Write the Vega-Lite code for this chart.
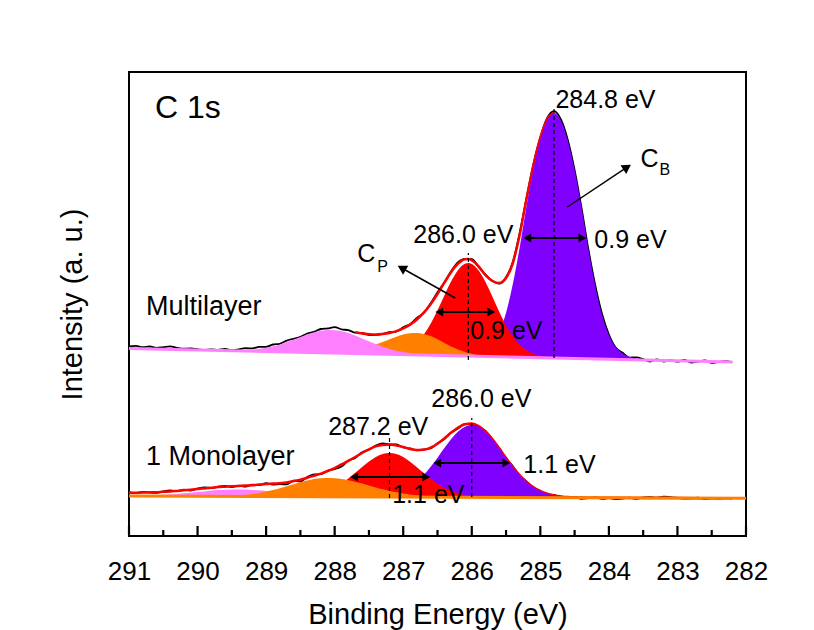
{
  "$schema": "https://vega.github.io/schema/vega-lite/v6.json",
  "width": 617,
  "height": 464,
  "autosize": {"type": "none"},
  "padding": {"left": 129, "top": 72, "right": 68, "bottom": 94},
  "background": "white",
  "config": {"view": {"stroke": "black", "strokeWidth": 2}, "font": "Liberation Sans"},
  "datasets": {
    "ml_data": [
      {"E":291.0,"v":189.5},{"E":290.9,"v":190.1},{"E":290.8,"v":188.8},{"E":290.7,"v":189.5},{"E":290.6,"v":188.1},{"E":290.5,"v":188.9},{"E":290.4,"v":189.6},{"E":290.3,"v":188.2},{"E":290.2,"v":187.3},{"E":290.1,"v":187.6},
      {"E":290.0,"v":186.8},{"E":289.9,"v":186.0},{"E":289.8,"v":186.6},{"E":289.7,"v":186.1},{"E":289.6,"v":187.0},{"E":289.5,"v":185.8},{"E":289.4,"v":186.7},{"E":289.3,"v":187.8},{"E":289.2,"v":187.6},{"E":289.1,"v":189.1},
      {"E":289.0,"v":189.2},{"E":288.9,"v":191.5},{"E":288.8,"v":192.2},{"E":288.7,"v":195.4},{"E":288.6,"v":197.2},{"E":288.5,"v":199.2},{"E":288.4,"v":202.5},{"E":288.3,"v":204.2},{"E":288.2,"v":207.0},{"E":288.1,"v":207.6},
      {"E":288.0,"v":208.9},{"E":287.9,"v":206.6},{"E":287.8,"v":205.9},{"E":287.7,"v":203.3},{"E":287.6,"v":203.0},{"E":287.5,"v":200.9},{"E":287.4,"v":201.1},{"E":287.3,"v":202.1},{"E":287.2,"v":203.8},{"E":287.1,"v":204.4},
      {"E":287.0,"v":208.8},{"E":286.9,"v":211.8},{"E":286.8,"v":218.0},{"E":286.7,"v":223.1},{"E":286.6,"v":232.7},{"E":286.5,"v":243.8},{"E":286.4,"v":253.6},{"E":286.3,"v":265.0},{"E":286.2,"v":273.8},{"E":286.1,"v":277.1},
      {"E":286.0,"v":276.9},{"E":285.9,"v":269.2},{"E":285.8,"v":261.4},{"E":285.7,"v":255.2},{"E":285.6,"v":252.4},{"E":285.5,"v":258.8},{"E":285.4,"v":274.5},{"E":285.3,"v":303.5},{"E":285.2,"v":338.6},{"E":285.1,"v":372.1},
      {"E":285.0,"v":398.7},{"E":284.9,"v":418.0},{"E":284.8,"v":424.9},{"E":284.7,"v":416.5},{"E":284.6,"v":396.2},{"E":284.5,"v":365.8},{"E":284.4,"v":328.3},{"E":284.3,"v":287.0},{"E":284.2,"v":251.0},{"E":284.1,"v":221.9},
      {"E":284.0,"v":201.5},{"E":283.9,"v":188.5},{"E":283.8,"v":183.2},{"E":283.7,"v":178.4},{"E":283.6,"v":178.6},{"E":283.5,"v":176.8},{"E":283.4,"v":174.4},{"E":283.3,"v":176.5},{"E":283.2,"v":174.4},{"E":283.1,"v":175.9},
      {"E":283.0,"v":174.3},{"E":282.9,"v":176.1},{"E":282.8,"v":173.4},{"E":282.7,"v":174.5},{"E":282.6,"v":175.6},{"E":282.5,"v":173.1},{"E":282.4,"v":174.1},{"E":282.3,"v":174.9},{"E":282.2,"v":173.5}
    ],
    "mono_data": [
      {"E":291.0,"v":43.7},{"E":290.9,"v":43.0},{"E":290.8,"v":44.2},{"E":290.7,"v":43.6},{"E":290.6,"v":43.2},{"E":290.5,"v":44.6},{"E":290.4,"v":45.5},{"E":290.3,"v":44.9},{"E":290.2,"v":46.3},{"E":290.1,"v":45.5},
      {"E":290.0,"v":47.3},{"E":289.9,"v":48.7},{"E":289.8,"v":47.8},{"E":289.7,"v":49.4},{"E":289.6,"v":50.2},{"E":289.5,"v":49.0},{"E":289.4,"v":50.3},{"E":289.3,"v":49.3},{"E":289.2,"v":51.4},{"E":289.1,"v":50.9},
      {"E":289.0,"v":52.8},{"E":288.9,"v":51.3},{"E":288.8,"v":51.9},{"E":288.7,"v":51.6},{"E":288.6,"v":55.4},{"E":288.5,"v":54.5},{"E":288.4,"v":58.9},{"E":288.3,"v":61.5},{"E":288.2,"v":61.8},{"E":288.1,"v":65.4},
      {"E":288.0,"v":66.9},{"E":287.9,"v":69.4},{"E":287.8,"v":75.4},{"E":287.7,"v":78.1},{"E":287.6,"v":83.7},{"E":287.5,"v":86.3},{"E":287.4,"v":90.4},{"E":287.3,"v":92.6},{"E":287.2,"v":91.7},{"E":287.1,"v":91.5},
      {"E":287.0,"v":88.5},{"E":286.9,"v":87.6},{"E":286.8,"v":85.7},{"E":286.7,"v":86.7},{"E":286.6,"v":87.6},{"E":286.5,"v":92.8},{"E":286.4,"v":97.0},{"E":286.3,"v":103.6},{"E":286.2,"v":107.4},{"E":286.1,"v":112.0},
      {"E":286.0,"v":111.9},{"E":285.9,"v":108.8},{"E":285.8,"v":105.1},{"E":285.7,"v":96.2},{"E":285.6,"v":87.9},{"E":285.5,"v":77.6},{"E":285.4,"v":69.7},{"E":285.3,"v":60.3},{"E":285.2,"v":54.5},{"E":285.1,"v":48.3},
      {"E":285.0,"v":45.2},{"E":284.9,"v":41.4},{"E":284.8,"v":41.1},{"E":284.7,"v":38.6},{"E":284.6,"v":38.7},{"E":284.5,"v":39.2},{"E":284.4,"v":37.1},{"E":284.3,"v":37.8},{"E":284.2,"v":38.6},{"E":284.1,"v":37.1},
      {"E":284.0,"v":37.9},{"E":283.9,"v":36.8},{"E":283.8,"v":37.5},{"E":283.7,"v":38.3},{"E":283.6,"v":37.1},{"E":283.5,"v":38.6},{"E":283.4,"v":39.0},{"E":283.3,"v":38.4},{"E":283.2,"v":39.3},{"E":283.1,"v":38.8},
      {"E":283.0,"v":38.2},{"E":282.9,"v":37.3},{"E":282.8,"v":37.7},{"E":282.7,"v":38.3},{"E":282.6,"v":37.0},{"E":282.5,"v":38.0},{"E":282.4,"v":37.3},{"E":282.3,"v":38.1},{"E":282.2,"v":37.4}
    ],
    "ml_env": [
      {"E":287.7,"v":203.7},{"E":287.6,"v":202.4},{"E":287.5,"v":201.7},{"E":287.4,"v":201.4},{"E":287.3,"v":201.9},{"E":287.2,"v":203.0},{"E":287.1,"v":204.9},{"E":287.0,"v":207.6},{"E":286.9,"v":211.4},{"E":286.8,"v":216.5},
      {"E":286.7,"v":223.3},{"E":286.6,"v":231.8},{"E":286.5,"v":242.0},{"E":286.4,"v":253.3},{"E":286.3,"v":264.0},{"E":286.2,"v":272.3},{"E":286.1,"v":276.7},{"E":286.05,"v":276.9},{"E":286.0,"v":275.7},{"E":285.9,"v":269.7},
      {"E":285.8,"v":260.8},{"E":285.7,"v":255.0},{"E":285.6,"v":253.0},{"E":285.5,"v":258.0},{"E":285.4,"v":273.0},{"E":285.3,"v":301.5},{"E":285.2,"v":337.6},{"E":285.1,"v":370.9},{"E":285.0,"v":398.2},{"E":284.9,"v":416.7},{"E":284.8,"v":423.4}
    ],
    "mono_env": [
      {"E":291.0,"v":43.2},{"E":290.9,"v":43.3},{"E":290.8,"v":43.4},{"E":290.7,"v":43.6},{"E":290.6,"v":43.8},{"E":290.5,"v":44.2},{"E":290.4,"v":44.5},{"E":290.3,"v":45.1},{"E":290.2,"v":45.7},{"E":290.1,"v":46.3},
      {"E":290.0,"v":47.0},{"E":289.9,"v":47.6},{"E":289.8,"v":48.2},{"E":289.7,"v":48.9},{"E":289.6,"v":49.3},{"E":289.5,"v":49.7},{"E":289.4,"v":50.1},{"E":289.3,"v":50.5},{"E":289.2,"v":50.8},{"E":289.1,"v":51.4},
      {"E":289.0,"v":52.0},{"E":288.9,"v":52.5},{"E":288.8,"v":52.7},{"E":288.7,"v":53.6},{"E":288.6,"v":54.9},{"E":288.5,"v":56.3},{"E":288.4,"v":58.2},{"E":288.3,"v":60.3},{"E":288.2,"v":62.4},{"E":288.1,"v":65.0},
      {"E":288.0,"v":67.9},{"E":287.9,"v":71.6},{"E":287.8,"v":75.1},{"E":287.7,"v":79.0},{"E":287.6,"v":83.1},{"E":287.5,"v":86.7},{"E":287.4,"v":89.6},{"E":287.3,"v":91.1},{"E":287.2,"v":91.5},{"E":287.1,"v":90.6},
      {"E":287.0,"v":89.0},{"E":286.9,"v":87.0},{"E":286.8,"v":86.0},{"E":286.7,"v":86.3},{"E":286.6,"v":88.4},{"E":286.5,"v":92.3},{"E":286.4,"v":97.6},{"E":286.3,"v":103.4},{"E":286.2,"v":108.4},{"E":286.1,"v":111.7},
      {"E":286.0,"v":112.4},{"E":285.9,"v":110.0},{"E":285.8,"v":104.7},{"E":285.7,"v":97.0},{"E":285.6,"v":87.7},{"E":285.5,"v":78.1},{"E":285.4,"v":68.8},{"E":285.3,"v":60.6},{"E":285.2,"v":53.9},{"E":285.1,"v":48.7},
      {"E":285.0,"v":44.9},{"E":284.9,"v":42.3},{"E":284.8,"v":40.6},{"E":284.7,"v":39.6},{"E":284.6,"v":38.9},{"E":284.5,"v":38.6},{"E":284.4,"v":38.4},{"E":284.2,"v":38.2},{"E":284.0,"v":38.2},{"E":283.5,"v":38.1},
      {"E":283.0,"v":37.9},{"E":282.5,"v":37.8},{"E":282.2,"v":37.7}
    ],
    "ml_violet": [
      {"E":283.4,"v":175.9,"b":175.9},{"E":283.5,"v":176.5,"b":176.0},{"E":283.6,"v":177.4,"b":176.2},{"E":283.7,"v":179.2,"b":176.3},{"E":283.8,"v":182.6,"b":176.5},{"E":283.9,"v":188.9,"b":176.6},{"E":284.0,"v":201.3,"b":176.8},{"E":284.1,"v":221.0,"b":176.9},
      {"E":284.2,"v":250.6,"b":177.1},{"E":284.3,"v":287.6,"b":177.3},{"E":284.4,"v":329.3,"b":177.4},{"E":284.5,"v":366.3,"b":177.6},{"E":284.6,"v":395.8,"b":177.7},{"E":284.7,"v":415.6,"b":177.9},{"E":284.8,"v":423.0,"b":178.0},{"E":284.9,"v":415.9,"b":178.2},
      {"E":285.0,"v":396.4,"b":178.3},{"E":285.1,"v":367.2,"b":178.5},{"E":285.2,"v":330.5,"b":178.6},{"E":285.3,"v":289.1,"b":178.8},{"E":285.4,"v":252.4,"b":178.9},{"E":285.5,"v":223.2,"b":179.1},{"E":285.6,"v":203.7,"b":179.2},{"E":285.7,"v":191.7,"b":179.4},
      {"E":285.8,"v":185.7,"b":179.6},{"E":285.9,"v":182.6,"b":179.7},{"E":286.0,"v":181.1,"b":179.9},{"E":286.1,"v":180.5,"b":180.0},{"E":286.2,"v":180.2,"b":180.2}
    ],
    "ml_red": [
      {"E":284.6,"v":177.8,"b":177.7},{"E":284.7,"v":178.0,"b":177.9},{"E":284.8,"v":178.4,"b":178.0},{"E":284.9,"v":179.0,"b":178.2},{"E":285.0,"v":180.1,"b":178.3},{"E":285.1,"v":182.2,"b":178.5},{"E":285.2,"v":185.7,"b":178.6},{"E":285.3,"v":191.2,"b":178.8},
      {"E":285.4,"v":199.5,"b":178.9},{"E":285.5,"v":210.6,"b":179.1},{"E":285.6,"v":224.3,"b":179.2},{"E":285.7,"v":239.5,"b":179.4},{"E":285.8,"v":254.0,"b":179.6},{"E":285.9,"v":265.5,"b":179.7},{"E":286.0,"v":272.0,"b":179.9},{"E":286.05,"v":272.9,"b":179.9},
      {"E":286.1,"v":272.2,"b":180.0},{"E":286.2,"v":266.0,"b":180.2},{"E":286.3,"v":254.7,"b":180.3},{"E":286.4,"v":240.6,"b":180.5},{"E":286.5,"v":225.7,"b":180.6},{"E":286.6,"v":212.3,"b":180.8},{"E":286.7,"v":201.5,"b":180.9},{"E":286.8,"v":193.5,"b":181.1},
      {"E":286.9,"v":188.3,"b":181.2},{"E":287.0,"v":185.1,"b":181.4},{"E":287.1,"v":183.3,"b":181.5},{"E":287.2,"v":182.5,"b":181.7},{"E":287.3,"v":182.2,"b":181.8},{"E":287.4,"v":182.1,"b":182.0},{"E":287.5,"v":182.2,"b":182.2}
    ],
    "ml_orange": [
      {"E":285.6,"v":179.4,"b":179.2},{"E":285.7,"v":179.7,"b":179.4},{"E":285.8,"v":180.3,"b":179.6},{"E":285.9,"v":181.0,"b":179.7},{"E":286.0,"v":182.3,"b":179.9},{"E":286.1,"v":184.0,"b":180.0},{"E":286.2,"v":186.5,"b":180.2},
      {"E":286.3,"v":189.6,"b":180.3},{"E":286.4,"v":193.1,"b":180.5},{"E":286.5,"v":196.7,"b":180.6},{"E":286.6,"v":200.0,"b":180.8},{"E":286.7,"v":202.1,"b":180.9},{"E":286.8,"v":203.1,"b":181.1},{"E":286.9,"v":202.7,"b":181.2},
      {"E":287.0,"v":201.4,"b":181.4},{"E":287.1,"v":199.3,"b":181.5},{"E":287.2,"v":196.8,"b":181.7},{"E":287.3,"v":194.0,"b":181.8},{"E":287.4,"v":191.4,"b":182.0},{"E":287.5,"v":189.0,"b":182.2},{"E":287.6,"v":187.1,"b":182.3},
      {"E":287.7,"v":185.7,"b":182.5},{"E":287.8,"v":184.7,"b":182.6},{"E":287.9,"v":184.1,"b":182.8},{"E":288.0,"v":183.6,"b":182.9},{"E":288.1,"v":183.5,"b":183.1},{"E":288.2,"v":183.4,"b":183.2},{"E":288.3,"v":183.5,"b":183.4}
    ],
    "ml_pink": [
      {"E":286.4,"v":180.6,"b":180.5},{"E":286.5,"v":180.8,"b":180.6},{"E":286.6,"v":181.1,"b":180.8},{"E":286.7,"v":181.5,"b":180.9},{"E":286.8,"v":182.1,"b":181.1},{"E":286.9,"v":182.8,"b":181.2},{"E":287.0,"v":183.9,"b":181.4},
      {"E":287.1,"v":185.3,"b":181.5},{"E":287.2,"v":187.1,"b":181.7},{"E":287.3,"v":189.3,"b":181.8},{"E":287.4,"v":191.9,"b":182.0},{"E":287.5,"v":194.8,"b":182.2},{"E":287.6,"v":197.6,"b":182.3},{"E":287.7,"v":200.5,"b":182.5},
      {"E":287.8,"v":202.9,"b":182.6},{"E":287.9,"v":204.8,"b":182.8},{"E":288.0,"v":205.8,"b":182.9},{"E":288.1,"v":206.0,"b":183.1},{"E":288.2,"v":205.2,"b":183.2},{"E":288.3,"v":203.7,"b":183.4},{"E":288.4,"v":201.5,"b":183.5},
      {"E":288.5,"v":199.0,"b":183.7},{"E":288.6,"v":196.4,"b":183.8},{"E":288.7,"v":193.9,"b":184.0},{"E":288.8,"v":191.6,"b":184.1},{"E":288.9,"v":189.7,"b":184.3},{"E":289.0,"v":188.2,"b":184.4},{"E":289.1,"v":187.1,"b":184.6},
      {"E":289.2,"v":186.4,"b":184.8},{"E":289.3,"v":185.9,"b":184.9},{"E":289.4,"v":185.7,"b":185.1},{"E":289.5,"v":185.5,"b":185.2},{"E":289.6,"v":185.6,"b":185.4},{"E":289.7,"v":185.6,"b":185.5}
    ],
    "ml_base": [{"E":291.0,"v":187.5},{"E":282.2,"v":174.0}],
    "mono_violet": [
      {"E":284.4,"v":38.4,"b":38.3},{"E":284.5,"v":38.6,"b":38.3},{"E":284.6,"v":38.9,"b":38.3},{"E":284.7,"v":39.6,"b":38.4},{"E":284.8,"v":40.6,"b":38.4},{"E":284.9,"v":42.3,"b":38.4},{"E":285.0,"v":44.9,"b":38.4},{"E":285.1,"v":48.7,"b":38.5},
      {"E":285.2,"v":53.9,"b":38.5},{"E":285.3,"v":60.6,"b":38.5},{"E":285.4,"v":68.8,"b":38.5},{"E":285.5,"v":78.1,"b":38.6},{"E":285.6,"v":87.7,"b":38.6},{"E":285.7,"v":96.8,"b":38.6},{"E":285.8,"v":104.3,"b":38.7},{"E":285.9,"v":109.3,"b":38.7},
      {"E":286.0,"v":111.0,"b":38.7},{"E":286.1,"v":109.3,"b":38.7},{"E":286.2,"v":104.4,"b":38.8},{"E":286.3,"v":97.0,"b":38.8},{"E":286.4,"v":87.9,"b":38.8},{"E":286.5,"v":78.3,"b":38.8},{"E":286.6,"v":69.2,"b":38.9},{"E":286.7,"v":61.0,"b":38.9},
      {"E":286.8,"v":54.3,"b":38.9},{"E":286.9,"v":49.1,"b":38.9},{"E":287.0,"v":45.5,"b":39.0},{"E":287.1,"v":42.9,"b":39.0},{"E":287.2,"v":41.2,"b":39.0},{"E":287.3,"v":40.2,"b":39.0},{"E":287.4,"v":39.7,"b":39.1},{"E":287.5,"v":39.4,"b":39.1},{"E":287.6,"v":39.3,"b":39.1}
    ],
    "mono_red": [
      {"E":285.7,"v":38.8,"b":38.6},{"E":285.8,"v":39.1,"b":38.7},{"E":285.9,"v":39.4,"b":38.7},{"E":286.0,"v":40.1,"b":38.7},{"E":286.1,"v":41.1,"b":38.7},{"E":286.2,"v":42.7,"b":38.8},{"E":286.3,"v":45.0,"b":38.8},{"E":286.4,"v":48.2,"b":38.8},
      {"E":286.5,"v":52.3,"b":38.8},{"E":286.6,"v":57.3,"b":38.9},{"E":286.7,"v":63.0,"b":38.9},{"E":286.8,"v":68.8,"b":38.9},{"E":286.9,"v":74.3,"b":38.9},{"E":287.0,"v":79.0,"b":39.0},{"E":287.1,"v":81.9,"b":39.0},{"E":287.2,"v":83.0,"b":39.0},
      {"E":287.3,"v":81.9,"b":39.0},{"E":287.4,"v":79.1,"b":39.1},{"E":287.5,"v":74.5,"b":39.1},{"E":287.6,"v":69.0,"b":39.1},{"E":287.7,"v":63.2,"b":39.1},{"E":287.8,"v":57.6,"b":39.2},{"E":287.9,"v":52.7,"b":39.2},{"E":288.0,"v":48.6,"b":39.2},
      {"E":288.1,"v":45.5,"b":39.3},{"E":288.2,"v":43.2,"b":39.3},{"E":288.3,"v":41.7,"b":39.3},{"E":288.4,"v":40.7,"b":39.3},{"E":288.5,"v":40.1,"b":39.4},{"E":288.6,"v":39.8,"b":39.4},{"E":288.7,"v":39.6,"b":39.4}
    ],
    "mono_orange": [
      {"E":286.1,"v":38.8,"b":38.7},{"E":286.2,"v":38.9,"b":38.8},{"E":286.3,"v":39.0,"b":38.8},{"E":286.4,"v":39.1,"b":38.8},{"E":286.5,"v":39.3,"b":38.8},{"E":286.6,"v":39.7,"b":38.9},{"E":286.7,"v":40.1,"b":38.9},{"E":286.8,"v":40.7,"b":38.9},
      {"E":286.9,"v":41.4,"b":38.9},{"E":287.0,"v":42.5,"b":39.0},{"E":287.1,"v":43.7,"b":39.0},{"E":287.2,"v":45.1,"b":39.0},{"E":287.3,"v":46.7,"b":39.0},{"E":287.4,"v":48.6,"b":39.1},{"E":287.5,"v":50.5,"b":39.1},{"E":287.6,"v":52.4,"b":39.1},
      {"E":287.7,"v":54.1,"b":39.1},{"E":287.8,"v":55.7,"b":39.2},{"E":287.9,"v":56.9,"b":39.2},{"E":288.0,"v":57.7,"b":39.2},{"E":288.1,"v":58.0,"b":39.3},{"E":288.2,"v":57.7,"b":39.3},{"E":288.3,"v":56.9,"b":39.3},{"E":288.4,"v":55.5,"b":39.3},
      {"E":288.5,"v":53.8,"b":39.4},{"E":288.6,"v":51.8,"b":39.4},{"E":288.7,"v":49.7,"b":39.4},{"E":288.8,"v":47.7,"b":39.4},{"E":288.9,"v":46.0,"b":39.5},{"E":289.0,"v":44.4,"b":39.5},{"E":289.1,"v":43.1,"b":39.5},{"E":289.2,"v":42.0,"b":39.5},
      {"E":289.3,"v":41.3,"b":39.6},{"E":289.4,"v":40.7,"b":39.6},{"E":289.5,"v":40.3,"b":39.6},{"E":289.6,"v":40.1,"b":39.6},{"E":289.7,"v":40.0,"b":39.7},{"E":289.8,"v":39.8,"b":39.7}
    ],
    "mono_pink": [
      {"E":287.8,"v":39.4,"b":39.2},{"E":287.9,"v":39.5,"b":39.2},{"E":288.0,"v":39.7,"b":39.2},{"E":288.1,"v":40.0,"b":39.3},{"E":288.2,"v":40.2,"b":39.3},{"E":288.3,"v":40.6,"b":39.3},{"E":288.4,"v":41.0,"b":39.3},{"E":288.5,"v":41.7,"b":39.4},
      {"E":288.6,"v":42.3,"b":39.4},{"E":288.7,"v":42.9,"b":39.4},{"E":288.8,"v":43.6,"b":39.4},{"E":288.9,"v":44.4,"b":39.5},{"E":289.0,"v":45.1,"b":39.5},{"E":289.1,"v":45.7,"b":39.5},{"E":289.2,"v":46.1,"b":39.5},{"E":289.3,"v":46.5,"b":39.6},
      {"E":289.4,"v":46.6,"b":39.6},{"E":289.5,"v":46.5,"b":39.6},{"E":289.6,"v":46.2,"b":39.6},{"E":289.7,"v":45.9,"b":39.7},{"E":289.8,"v":45.3,"b":39.7},{"E":289.9,"v":44.6,"b":39.7},{"E":290.0,"v":43.9,"b":39.7},{"E":290.1,"v":43.3,"b":39.8},
      {"E":290.2,"v":42.7,"b":39.8},{"E":290.3,"v":42.1,"b":39.8},{"E":290.4,"v":41.5,"b":39.8},{"E":290.5,"v":41.2,"b":39.9},{"E":290.6,"v":40.8,"b":39.9},{"E":290.7,"v":40.6,"b":39.9},{"E":290.8,"v":40.5,"b":40.0},{"E":290.9,"v":40.3,"b":40.0},{"E":291.0,"v":40.2,"b":40.0}
    ],
    "mono_base": [{"E":291.0,"v":40.0},{"E":282.0,"v":37.7}],
    "xticks": [
      {"E":282,"v":1,"v2":10},{"E":283,"v":1,"v2":10},{"E":284,"v":1,"v2":10},{"E":285,"v":1,"v2":10},{"E":286,"v":1,"v2":10},
      {"E":287,"v":1,"v2":10},{"E":288,"v":1,"v2":10},{"E":289,"v":1,"v2":10},{"E":290,"v":1,"v2":10},{"E":291,"v":1,"v2":10},
      {"E":282.5,"v":1,"v2":6},{"E":283.5,"v":1,"v2":6},{"E":284.5,"v":1,"v2":6},{"E":285.5,"v":1,"v2":6},{"E":286.5,"v":1,"v2":6},
      {"E":287.5,"v":1,"v2":6},{"E":288.5,"v":1,"v2":6},{"E":289.5,"v":1,"v2":6},{"E":290.5,"v":1,"v2":6}
    ],
    "dash": [
      {"E":284.8,"v":178,"v2":429},
      {"E":286.05,"v":176,"v2":283},
      {"E":286.0,"v":39,"v2":118},
      {"E":287.2,"v":38,"v2":98}
    ],
    "harr": [
      {"E":285.19,"E2":284.387,"v":298},
      {"E":286.474,"E2":285.715,"v":224},
      {"E":286.504,"E2":285.496,"v":73},
      {"E":287.715,"E2":286.664,"v":59}
    ],
    "diag": [
      {"E":284.606,"v":329,"E2":283.734,"v2":368.8},
      {"E":286.241,"v":238,"E2":287.022,"v2":268}
    ],
    "heads": [
      {"E":285.19,"v":298,"dir":"L"},{"E":284.387,"v":298,"dir":"R"},
      {"E":286.474,"v":224,"dir":"L"},{"E":285.715,"v":224,"dir":"R"},
      {"E":286.504,"v":73,"dir":"L"},{"E":285.496,"v":73,"dir":"R"},
      {"E":287.715,"v":59,"dir":"L"},{"E":286.664,"v":59,"dir":"R"},
      {"E":283.734,"v":368.8,"dir":"CB"},
      {"E":287.022,"v":268,"dir":"CP"}
    ],
    "labels": [
      {"kind":"big","E":290.62,"v":418,"t":"C 1s"},
      {"kind":"ann","E":284.78,"v":428,"t":"284.8 eV"},
      {"kind":"ann","E":283.54,"v":369,"t":"C"},
      {"kind":"ann","E":286.854,"v":293,"t":"286.0 eV"},
      {"kind":"ann","E":284.212,"v":288,"t":"0.9 eV"},
      {"kind":"ann","E":287.672,"v":274,"t":"C"},
      {"kind":"ann","E":286.022,"v":197,"t":"0.9 eV"},
      {"kind":"ann","E":288.095,"v":101,"t":"287.2 eV"},
      {"kind":"ann","E":286.591,"v":129,"t":"286.0 eV"},
      {"kind":"ann","E":285.248,"v":63,"t":"1.1 eV"},
      {"kind":"ann","E":287.161,"v":33,"t":"1.1 eV"},
      {"kind":"sub","E":283.263,"v":361,"t":"B"},
      {"kind":"sub","E":287.38,"v":264,"t":"P"},
      {"kind":"sample","E":290.752,"v":221,"t":"Multilayer"},
      {"kind":"sample","E":290.752,"v":71,"t":"1 Monolayer"}
    ]
  },
  "encoding": {
    "x": {
      "field": "E", "type": "quantitative",
      "scale": {"domain": [282, 291], "reverse": true, "nice": false, "zero": false},
      "axis": {
        "title": "Binding Energy (eV)",
        "values": [282,283,284,285,286,287,288,289,290,291],
        "format": "d", "ticks": false, "domain": false, "grid": false,
        "labelFont": "Liberation Sans", "labelFontSize": 26, "labelColor": "black",
        "labelPadding": 22, "labelFlush": false, "labelOverlap": false,
        "titleFont": "Liberation Sans", "titleFontSize": 29, "titleFontWeight": "normal", "titleColor": "black", "titlePadding": 16
      }
    },
    "y": {
      "field": "v", "type": "quantitative",
      "scale": {"domain": [0, 464], "nice": false, "zero": false},
      "axis": {
        "title": "Intensity (a. u.)", "ticks": false, "labels": false, "domain": false, "grid": false,
        "titleFont": "Liberation Sans", "titleFontSize": 29, "titleFontWeight": "normal", "titleColor": "black", "titlePadding": 42
      }
    }
  },
  "layer": [
    {"data": {"name": "ml_data"}, "mark": {"type": "line", "color": "black", "strokeWidth": 1.8, "interpolate": "monotone"}},
    {"data": {"name": "mono_data"}, "mark": {"type": "line", "color": "black", "strokeWidth": 1.8, "interpolate": "monotone"}},
    {"data": {"name": "ml_env"}, "mark": {"type": "line", "color": "#FF0000", "strokeWidth": 2.5, "interpolate": "monotone"}},
    {"data": {"name": "mono_env"}, "mark": {"type": "line", "color": "#FF0000", "strokeWidth": 2.5, "interpolate": "monotone"}},
    {"data": {"name": "ml_violet"}, "mark": {"type": "area", "color": "#8000FF", "opacity": 1, "interpolate": "monotone"}, "encoding": {"y2": {"field": "b"}}},
    {"data": {"name": "ml_red"}, "mark": {"type": "area", "color": "#FF0000", "opacity": 1, "interpolate": "monotone"}, "encoding": {"y2": {"field": "b"}}},
    {"data": {"name": "ml_orange"}, "mark": {"type": "area", "color": "#FF8000", "opacity": 1, "interpolate": "monotone"}, "encoding": {"y2": {"field": "b"}}},
    {"data": {"name": "ml_pink"}, "mark": {"type": "area", "color": "#FF80FF", "opacity": 1, "interpolate": "monotone"}, "encoding": {"y2": {"field": "b"}}},
    {"data": {"name": "ml_base"}, "mark": {"type": "line", "color": "#FF80FF", "strokeWidth": 3}},
    {"data": {"name": "mono_violet"}, "mark": {"type": "area", "color": "#8000FF", "opacity": 1, "interpolate": "monotone"}, "encoding": {"y2": {"field": "b"}}},
    {"data": {"name": "mono_red"}, "mark": {"type": "area", "color": "#FF0000", "opacity": 1, "interpolate": "monotone"}, "encoding": {"y2": {"field": "b"}}},
    {"data": {"name": "mono_pink"}, "mark": {"type": "area", "color": "#FF80FF", "opacity": 1, "interpolate": "monotone"}, "encoding": {"y2": {"field": "b"}}},
    {"data": {"name": "mono_orange"}, "mark": {"type": "area", "color": "#FF8000", "opacity": 1, "interpolate": "monotone"}, "encoding": {"y2": {"field": "b"}}},
    {"data": {"name": "mono_base"}, "mark": {"type": "line", "color": "#FF8000", "strokeWidth": 3}},
    {"data": {"name": "xticks"}, "mark": {"type": "rule", "color": "#000000", "strokeWidth": 2.2, "opacity": 1}, "encoding": {"y2": {"field": "v2"}}},
    {"data": {"name": "dash"}, "mark": {"type": "rule", "color": "black", "strokeWidth": 1.2, "strokeDash": [4, 3]}, "encoding": {"y2": {"field": "v2"}}},
    {"data": {"name": "harr"}, "mark": {"type": "rule", "color": "black", "strokeWidth": 2}, "encoding": {"x2": {"field": "E2"}}},
    {"data": {"name": "diag"}, "mark": {"type": "rule", "color": "black", "strokeWidth": 1.5}, "encoding": {"x2": {"field": "E2"}, "y2": {"field": "v2"}}},
    {"data": {"name": "heads"}, "transform": [{"filter": "datum.dir === 'L'"}], "mark": {"type": "point", "shape": "triangle-left", "filled": true, "color": "black", "opacity": 1, "size": 80}},
    {"data": {"name": "heads"}, "transform": [{"filter": "datum.dir === 'R'"}], "mark": {"type": "point", "shape": "triangle-right", "filled": true, "color": "black", "opacity": 1, "size": 80}},
    {"data": {"name": "heads"}, "transform": [{"filter": "datum.dir === 'CB'"}], "mark": {"type": "point", "shape": "triangle-up", "angle": 56.3, "filled": true, "color": "black", "opacity": 1, "size": 110}},
    {"data": {"name": "heads"}, "transform": [{"filter": "datum.dir === 'CP'"}], "mark": {"type": "point", "shape": "triangle-up", "angle": 299.3, "filled": true, "color": "black", "opacity": 1, "size": 110}},
    {"data": {"name": "labels"}, "transform": [{"filter": "datum.kind === 'ann'"}], "mark": {"type": "text", "align": "left", "baseline": "alphabetic", "font": "Liberation Sans", "fontSize": 25, "color": "black"}, "encoding": {"text": {"field": "t"}}},
    {"data": {"name": "labels"}, "transform": [{"filter": "datum.kind === 'sub'"}], "mark": {"type": "text", "align": "left", "baseline": "alphabetic", "font": "Liberation Sans", "fontSize": 16, "color": "black"}, "encoding": {"text": {"field": "t"}}},
    {"data": {"name": "labels"}, "transform": [{"filter": "datum.kind === 'sample'"}], "mark": {"type": "text", "align": "left", "baseline": "alphabetic", "font": "Liberation Sans", "fontSize": 27, "color": "black"}, "encoding": {"text": {"field": "t"}}},
    {"data": {"name": "labels"}, "transform": [{"filter": "datum.kind === 'big'"}], "mark": {"type": "text", "align": "left", "baseline": "alphabetic", "font": "Liberation Sans", "fontSize": 32, "color": "black"}, "encoding": {"text": {"field": "t"}}}
  ]
}
